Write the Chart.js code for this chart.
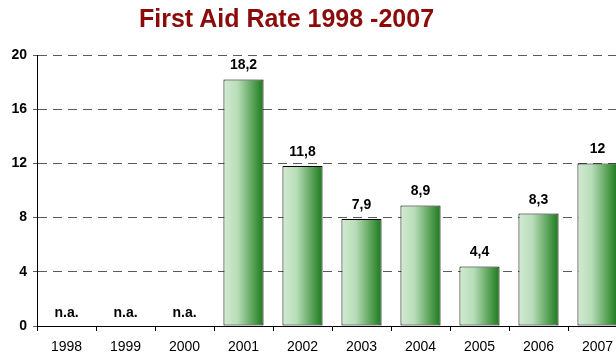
<!DOCTYPE html>
<html>
<head>
<meta charset="utf-8">
<script src="https://cdn.jsdelivr.net/npm/chart.js@4/dist/chart.umd.min.js"></script>
<style>
  html, body { margin: 0; padding: 0; background: #fff; overflow: hidden; }
  #wrap { position: relative; width: 630px; height: 358px; }
  #title {
    position: absolute; left: 139px; top: 4px;
    font: bold 25px 'Liberation Sans', Arial, sans-serif;
    color: #8b0a0a; white-space: nowrap; z-index: 2;
  }
</style>
</head>
<body>
<div id="wrap">
  <div id="title">First Aid Rate 1998 -2007</div>
  <canvas id="chart" width="630" height="358"></canvas>
</div>
<script>
// Chart data
const years = ['1998', '1999', '2000', '2001', '2002', '2003', '2004', '2005', '2006', '2007'];
const rates = [null, null, null, 18.2, 11.8, 7.9, 8.9, 4.4, 8.3, 12];
const yMax = 20;
const yStep = 4;

const FONT = "'Liberation Sans', Arial, sans-serif";

const barFill = (context) => {
    const chart = context.chart;
    const xScale = chart.scales.x;
    if (!chart.chartArea || !xScale) return '#8cc48c';
    const cx = xScale.getPixelForValue(context.dataIndex);
    const g = chart.ctx.createLinearGradient(cx - 20, 0, cx + 20, 0);
    g.addColorStop(0, '#d2ebd2');
    g.addColorStop(0.35, '#b8ddb8');
    g.addColorStop(0.7, '#62a862');
    g.addColorStop(1, '#1b7a1b');
    return g;
};

// draws value labels above bars, "n.a." where no data
const valueLabels = {
    id: 'valueLabels',
    afterDatasetsDraw(chart) {
        const ctx = chart.ctx;
        const meta = chart.getDatasetMeta(0);
        const base = chart.scales.y.getPixelForValue(0);
        ctx.save();
        ctx.font = 'bold 14px ' + FONT;
        ctx.fillStyle = '#000';
        ctx.textAlign = 'center';
        ctx.textBaseline = 'alphabetic';
        meta.data.forEach((bar, i) => {
            const v = rates[i];
            const x = chart.scales.x.getPixelForValue(i);
            if (v === null) {
                ctx.fillText('n.a.', x, base - 9);
            } else {
                ctx.fillText(String(v).replace('.', ','), x, bar.y - 10);
            }
        });
        ctx.restore();
    }
};

new Chart(document.getElementById('chart').getContext('2d'), {
    type: 'bar',
    data: {
        labels: years,
        datasets: [{
            data: rates,
            backgroundColor: barFill,
            borderColor: '#000',
            borderWidth: 1,
            borderSkipped: false,
            categoryPercentage: 1,
            barPercentage: 0.68
        }]
    },
    options: {
        responsive: false,
        animation: false,
        layout: { padding: { top: 55, right: 3, left: 0, bottom: 0 } },
        plugins: {
            legend: { display: false },
            tooltip: { enabled: false }
        },
        scales: {
            x: {
                offset: true,
                grid: {
                    offset: true,
                    drawOnChartArea: false,
                    drawTicks: true,
                    tickLength: 5,
                    color: '#000'
                },
                border: { display: true, color: '#000', width: 1 },
                ticks: {
                    color: '#000',
                    font: { family: FONT, size: 14 },
                    padding: 8
                },
                afterFit: (scale) => { scale.height = 32; }
            },
            y: {
                min: 0,
                max: yMax,
                ticks: {
                    stepSize: yStep,
                    color: '#000',
                    font: { family: FONT, size: 14, weight: 'bold' },
                    padding: 6
                },
                grid: {
                    color: (c) => c.tick && c.tick.value === 0 ? 'rgba(0,0,0,0)' : '#5a5a5a',
                    tickColor: '#5a5a5a',
                    tickLength: 4,
                    tickBorderDash: [9, 6]
                },
                border: { display: true, color: '#000', width: 1, dash: [9, 6] },
                afterFit: (scale) => { scale.width = 37; }
            }
        }
    },
    plugins: [valueLabels]
});
</script>
</body>
</html>
